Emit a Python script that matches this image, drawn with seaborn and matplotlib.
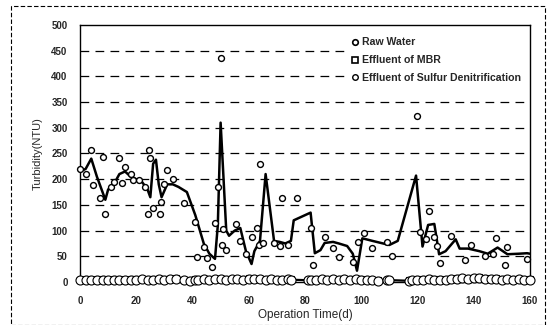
import numpy as np
import pandas as pd
import matplotlib
matplotlib.use("Agg")
import matplotlib.pyplot as plt
import seaborn as sns
from matplotlib.patches import Rectangle
from matplotlib.lines import Line2D

# ---- data ----
raw_days = [0, 2, 4, 4.7, 7, 8, 9, 11, 12, 14, 15, 16, 18, 19, 21, 23, 24, 24.5, 25, 26,
            28.5, 28.7, 30, 31, 33, 37, 41, 41.5, 44, 45, 47, 48, 49, 50, 50.5, 51, 52,
            55.6, 57, 59, 61, 63, 63.5, 64, 65, 69, 71, 72, 74, 77, 82, 83, 87, 90, 92,
            97, 99, 101, 104, 109, 111, 120, 121, 123, 124, 126, 127, 128, 132, 137,
            139, 144, 147, 148, 151, 152, 159]
raw_vals = [220, 210, 257, 189, 163, 243, 132, 185, 195, 241, 192, 224, 211, 198, 198, 185, 132, 257, 241, 143,
            132, 156, 190, 217, 200, 153, 117, 49, 69, 46, 29, 115, 185, 435, 72, 104, 62,
            113, 80, 54, 87, 106, 72, 230, 75, 75, 70, 164, 72, 164, 105, 33, 88, 67, 48,
            38, 78, 96, 67, 78, 51, 322, 98, 83, 139, 88, 71, 36, 90, 43,
            72, 51, 54, 85, 33, 69, 44]

trend_days = [0, 2, 4, 6, 8, 9, 10, 12, 14, 16, 18, 20, 22, 24, 25, 26, 27, 28, 29, 31,
              33, 35, 38, 41, 44, 46, 48, 49, 50, 52, 53, 55, 57, 59, 61, 62, 63, 64, 66,
              69, 71, 73, 75, 76, 82, 83.5, 85.5, 87, 90, 92, 95, 97, 98.5, 100.4, 104,
              110, 113, 119.5, 121.8, 123.8, 126, 127.7, 130, 133.6, 135, 138, 142, 145,
              148.5, 152, 156, 159, 160]
trend_vals = [215, 220, 240, 205, 175, 160, 180, 190, 210, 215, 205, 200, 195, 180, 165, 230, 238, 190, 165, 190,
              190, 185, 175, 130, 75, 55, 45, 110, 310, 100, 90, 100, 105, 60, 35, 60, 70, 80, 210,
              80, 78, 75, 80, 120, 135, 56, 62, 76, 78, 75, 70, 55, 22, 85, 80,
              72, 80, 207, 69, 111, 113, 54, 60, 83, 65, 65, 60, 55,
              67, 54, 55, 56, 55]

eff_days = [0, 2, 4, 6, 8, 10, 12, 14, 16, 18, 20, 22, 24, 26, 28, 30, 32, 34, 37, 39,
            41, 42, 44, 46, 48, 50, 52, 54, 56, 58, 60, 62, 64, 66, 68, 70, 72, 74, 75,
            81, 82, 84, 86, 88, 90, 92, 94, 96, 98, 100, 102, 104, 106,
            109, 110, 117, 118, 120, 122, 124, 126, 128, 130, 132, 134, 136, 138, 140, 142, 144, 146, 148, 150, 152, 154, 156, 158, 160]
mbr_vals = [4, 5, 4, 5, 5, 4, 5, 5, 4, 5, 5, 6, 5, 5, 6, 5, 6, 7, 4, 3,
            5, 5, 6, 5, 6, 6, 5, 6, 6, 5, 7, 6, 6, 5, 6, 5, 5, 6, 5,
            4, 5, 5, 6, 5, 6, 5, 6, 5, 6, 5, 4, 4, 3,
            4, 4, 3, 4, 5, 5, 6, 5, 5, 4, 6, 7, 8, 7, 8, 9, 7, 6, 7, 5, 6, 5, 6, 4, 5]
sd_vals = [3, 4, 3, 4, 4, 3, 4, 4, 3, 4, 4, 5, 4, 4, 5, 4, 5, 5, 3, 2,
           4, 4, 5, 4, 5, 5, 4, 5, 5, 4, 5, 5, 5, 4, 5, 4, 4, 5, 4,
           3, 4, 4, 5, 4, 5, 4, 5, 4, 5, 4, 3, 3, 2,
           3, 3, 2, 3, 4, 4, 5, 4, 4, 3, 5, 6, 7, 6, 7, 8, 6, 5, 6, 4, 5, 4, 5, 3, 4]

x_ticks = [0, 20, 40, 60, 80, 100, 120, 140, 160]
y_ticks = [0, 50, 100, 150, 200, 250, 300, 350, 400, 450, 500]

sns.set_theme(style="white")
plt.rcParams['font.family'] = ['Liberation Sans', 'DejaVu Sans']

fig = plt.figure(figsize=(5.5, 3.25), dpi=100)
ax = fig.add_axes([0.1455, 0.1323, 0.818, 0.7908])

for yv in y_ticks[1:-1]:
    ax.axhline(yv, color='black', lw=0.9, ls=(0, (7, 5)), zorder=0)

raw_df = pd.DataFrame({'day': raw_days, 'val': raw_vals})
trend_df = pd.DataFrame({'day': trend_days, 'val': trend_vals})
eff_df = pd.DataFrame({'day': eff_days, 'mbr': mbr_vals, 'sd': sd_vals})

sns.lineplot(data=trend_df, x='day', y='val', ax=ax, color='black', lw=1.8, zorder=3,
             estimator=None, sort=False, legend=False)
sns.lineplot(data=eff_df, x='day', y='mbr', ax=ax, color='black', lw=1.2, marker='s',
             markersize=5, markerfacecolor='white', markeredgecolor='black', markeredgewidth=0.8,
             estimator=None, zorder=4, legend=False, clip_on=False)
sns.lineplot(data=eff_df, x='day', y='sd', ax=ax, color='black', lw=1.2, marker='o',
             markersize=6.5, markerfacecolor='white', markeredgecolor='black', markeredgewidth=0.8,
             estimator=None, zorder=5, legend=False, clip_on=False)
sns.scatterplot(data=raw_df, x='day', y='val', ax=ax, marker='o', s=18, facecolor='white',
                edgecolor='black', linewidth=1.0, zorder=6, legend=False, clip_on=False)

ax.set_xlim(0, 160)
ax.set_ylim(0, 500)
ax.set_xticks(x_ticks)
ax.set_yticks(y_ticks)
ax.tick_params(axis='both', labelsize=7, length=2, direction='out', color='black')
ax.tick_params(axis='x', pad=8)
ax.tick_params(axis='y', pad=7)
for lbl in ax.get_xticklabels() + ax.get_yticklabels():
    lbl.set_fontweight('bold')
for sp in ax.spines.values():
    sp.set_color('black')
    sp.set_linewidth(1.0)
ax.set_xlabel('Operation Time(d)', fontsize=8.5, labelpad=2)
ax.set_ylabel('Turbidity(NTU)', fontsize=8, labelpad=6)

handles = [
    Line2D([], [], ls='none', marker='o', markersize=4, markerfacecolor='white', markeredgecolor='black', markeredgewidth=1.2),
    Line2D([], [], ls='none', marker='s', markersize=4, markerfacecolor='white', markeredgecolor='black', markeredgewidth=1.2),
    Line2D([], [], ls='none', marker='o', markersize=4, markerfacecolor='white', markeredgecolor='black', markeredgewidth=1.0),
]
leg = ax.legend(handles, ['Raw Water', 'Effluent of MBR', 'Effluent of Sulfur Denitrification'],
                loc='upper right', bbox_to_anchor=(1.0, 0.985), frameon=True, fontsize=7.6,
                handlelength=0.6, handletextpad=0.4, labelspacing=0.75, borderpad=0.3)
leg.get_frame().set_facecolor('white')
leg.get_frame().set_edgecolor('white')
leg.get_frame().set_alpha(1)
for t in leg.get_texts():
    t.set_fontweight('bold')

fig.patches.append(Rectangle((0.02, 0.0), 0.971, 0.982, transform=fig.transFigure, fill=False,
                             ls=(0, (4, 2)), lw=0.8, edgecolor='black'))

fig.savefig('out.png', dpi=100, facecolor='white')
